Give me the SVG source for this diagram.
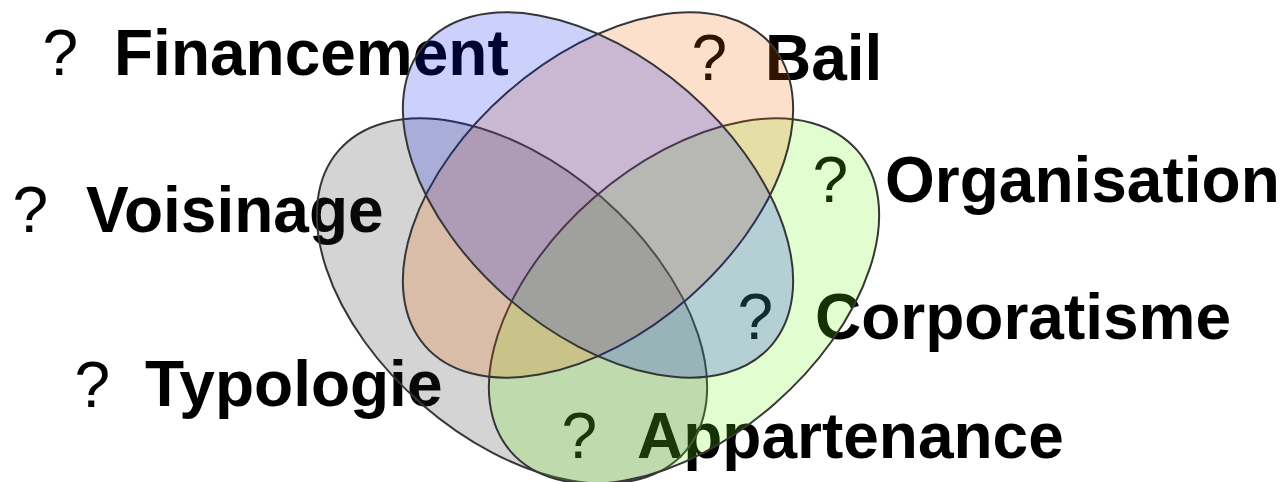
<svg xmlns="http://www.w3.org/2000/svg" width="1288" height="482" viewBox="0 0 1288 482">
  <style>
    .w { font-family: "Liberation Sans", Arial, sans-serif; font-weight: bold; font-size: 64px; fill: #000; }
    .q { font-family: "Liberation Sans", Arial, sans-serif; font-weight: normal; font-size: 64px; fill: #000; }
    .set { stroke: #363636; stroke-width: 2; fill-opacity: 0.2; }
  </style>
  <rect width="1288" height="482" fill="#fff"/>
  <g id="labels">
    <g id="label-financement"><text class="q" x="42.5" y="75">?</text><text class="w" x="114" y="75">Financement</text></g>
    <g id="label-bail"><text class="q" x="691.5" y="80">?</text><text class="w" x="765" y="80">Bail</text></g>
    <g id="label-organisation"><text class="q" x="812.5" y="202">?</text><text class="w" x="885" y="202">Organisation</text></g>
    <g id="label-voisinage"><text class="q" x="12.5" y="232">?</text><text class="w" x="86" y="232">Voisinage</text></g>
    <g id="label-corporatisme"><text class="q" x="737.5" y="339">?</text><text class="w" x="815" y="339">Corporatisme</text></g>
    <g id="label-typologie"><text class="q" x="74.5" y="407">?</text><text class="w" x="145" y="406">Typologie</text></g>
    <g id="label-appartenance"><text class="q" x="561.5" y="458">?</text><text class="w" x="637" y="458">Appartenance</text></g>
  </g>
  <g id="set-gray"><ellipse class="set" cx="512" cy="301" rx="229.5" ry="137" transform="rotate(41 512 301)" fill="rgb(40,40,40)"/></g>
  <g id="set-green"><ellipse class="set" cx="684" cy="301" rx="229.5" ry="137" transform="rotate(-41 684 301)" fill="rgb(110,250,20)"/></g>
  <g id="set-orange"><ellipse class="set" cx="598" cy="195" rx="229.5" ry="137" transform="rotate(-41 598 195)" fill="rgb(245,100,0)"/></g>
  <g id="set-blue"><ellipse class="set" cx="598" cy="195" rx="229.5" ry="137" transform="rotate(41 598 195)" fill="rgb(0,25,235)"/></g>
  <g id="connectors"></g>
</svg>
